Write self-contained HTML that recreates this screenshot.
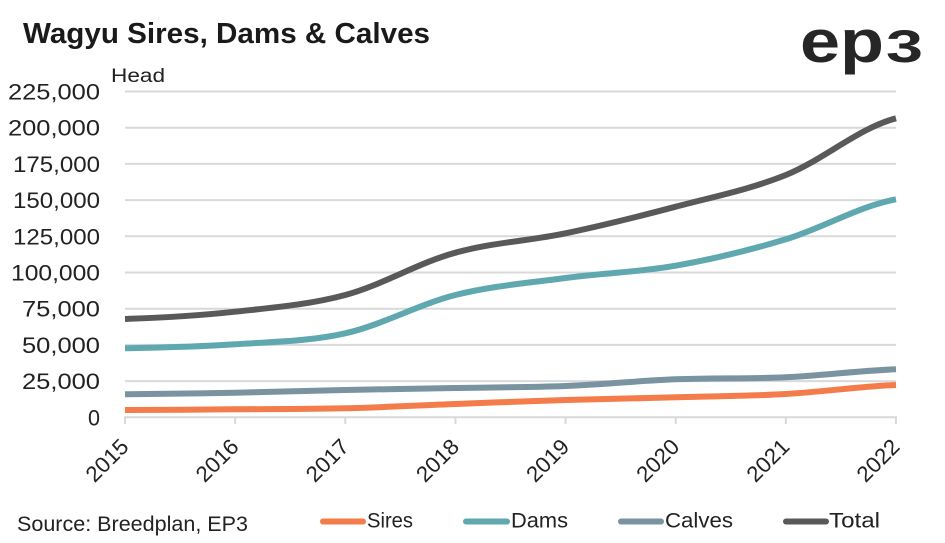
<!DOCTYPE html>
<html><head><meta charset="utf-8"><style>
html,body{margin:0;padding:0;background:#fff;}
svg{display:block;}
text{font-family:"Liberation Sans",sans-serif;}
</style></head><body>
<svg width="945" height="543" viewBox="0 0 945 543" xmlns="http://www.w3.org/2000/svg">
<rect width="945" height="543" fill="#fff"/>
<text x="23" y="43" font-size="29" font-weight="bold" fill="#1a1a1a" textLength="407" lengthAdjust="spacingAndGlyphs">Wagyu Sires, Dams &amp; Calves</text>
<g fill="#262626" font-weight="bold">
<text x="800" y="62" font-size="60" textLength="84" lengthAdjust="spacingAndGlyphs">ep</text>
<text x="886" y="62" font-size="45" textLength="37" lengthAdjust="spacingAndGlyphs">3</text>
</g>
<text x="111" y="82" font-size="19" fill="#222" textLength="54" lengthAdjust="spacingAndGlyphs">Head</text>
<g stroke="#d9d9d9" stroke-width="2">
<line x1="125" y1="91.5" x2="896" y2="91.5"/>
<line x1="125" y1="127.7" x2="896" y2="127.7"/>
<line x1="125" y1="163.9" x2="896" y2="163.9"/>
<line x1="125" y1="200.1" x2="896" y2="200.1"/>
<line x1="125" y1="236.3" x2="896" y2="236.3"/>
<line x1="125" y1="272.5" x2="896" y2="272.5"/>
<line x1="125" y1="308.7" x2="896" y2="308.7"/>
<line x1="125" y1="344.9" x2="896" y2="344.9"/>
<line x1="125" y1="381.1" x2="896" y2="381.1"/>
<line x1="124" y1="417.3" x2="897" y2="417.3"/>
<line x1="125" y1="417" x2="125" y2="424"/>
<line x1="235.14" y1="417" x2="235.14" y2="424"/>
<line x1="345.29" y1="417" x2="345.29" y2="424"/>
<line x1="455.43" y1="417" x2="455.43" y2="424"/>
<line x1="565.57" y1="417" x2="565.57" y2="424"/>
<line x1="675.71" y1="417" x2="675.71" y2="424"/>
<line x1="785.86" y1="417" x2="785.86" y2="424"/>
<line x1="896" y1="417" x2="896" y2="424"/>
</g>
<g font-size="22" fill="#222">
<text x="8" y="99.5" textLength="92" lengthAdjust="spacingAndGlyphs">225,000</text>
<text x="8" y="135.7" textLength="92" lengthAdjust="spacingAndGlyphs">200,000</text>
<text x="13" y="171.9" textLength="87" lengthAdjust="spacingAndGlyphs">175,000</text>
<text x="13" y="208.1" textLength="87" lengthAdjust="spacingAndGlyphs">150,000</text>
<text x="13" y="244.3" textLength="87" lengthAdjust="spacingAndGlyphs">125,000</text>
<text x="11" y="280.5" textLength="89" lengthAdjust="spacingAndGlyphs">100,000</text>
<text x="22" y="316.7" textLength="78" lengthAdjust="spacingAndGlyphs">75,000</text>
<text x="22" y="352.9" textLength="78" lengthAdjust="spacingAndGlyphs">50,000</text>
<text x="22" y="389.1" textLength="78" lengthAdjust="spacingAndGlyphs">25,000</text>
<text x="88" y="425.3" textLength="12" lengthAdjust="spacingAndGlyphs">0</text>
</g>
<g font-size="22" fill="#222" text-anchor="end">
<text x="130" y="448" transform="rotate(-45 130 448)" textLength="50" lengthAdjust="spacingAndGlyphs">2015</text>
<text x="240.14" y="448" transform="rotate(-45 240.14 448)" textLength="50" lengthAdjust="spacingAndGlyphs">2016</text>
<text x="350.29" y="448" transform="rotate(-45 350.29 448)" textLength="50" lengthAdjust="spacingAndGlyphs">2017</text>
<text x="460.43" y="448" transform="rotate(-45 460.43 448)" textLength="50" lengthAdjust="spacingAndGlyphs">2018</text>
<text x="570.57" y="448" transform="rotate(-45 570.57 448)" textLength="50" lengthAdjust="spacingAndGlyphs">2019</text>
<text x="680.71" y="448" transform="rotate(-45 680.71 448)" textLength="50" lengthAdjust="spacingAndGlyphs">2020</text>
<text x="790.86" y="448" transform="rotate(-45 790.86 448)" textLength="50" lengthAdjust="spacingAndGlyphs">2021</text>
<text x="901" y="448" transform="rotate(-45 901 448)" textLength="50" lengthAdjust="spacingAndGlyphs">2022</text>
</g>
<g fill="none" stroke-width="6" stroke-linejoin="round">
<path stroke="#595959" d="M125,319 C161.71,317.78 198.43,315.7 235.14,311.7 C271.85,307.7 308.57,304.83 345.29,295 C382,285.17 418.72,262.53 455.43,252.7 C492.14,242.42 528.86,241 565.57,233.3 C602.28,225.63 639,216.42 675.71,206.7 C712.42,196.98 749.14,189.73 785.86,175 C822.57,160.27 859.29,127.75 896,118.3"/>
<path stroke="#5fa8b0" d="M125,348.3 C161.71,347.63 198.43,346.8 235.14,344.3 C271.85,341.8 308.57,341.52 345.29,333.3 C382,325.08 418.72,304.22 455.43,295 C492.14,285.78 528.86,282.88 565.57,278 C602.28,273.12 639,272.15 675.71,265.7 C712.42,259.25 749.14,250.37 785.86,239.3 C822.57,228.23 859.29,205.97 896,199.3"/>
<path stroke="#7a93a0" d="M125,394.3 C161.71,394.03 198.43,393.42 235.14,392.7 C271.85,391.98 308.57,390.78 345.29,390 C382,389.22 418.72,388.67 455.43,388 C492.14,387.33 528.86,387.45 565.57,386 C602.28,384.55 639,380.75 675.71,379.3 C712.42,377.85 749.14,378.97 785.86,377.3 C822.57,375.63 859.29,370.63 896,369.3"/>
<path stroke="#f47c4b" d="M125,410 C161.71,409.88 198.43,409.58 235.14,409.3 C271.85,409.02 308.57,409.18 345.29,408.3 C382,407.42 418.72,405.38 455.43,404 C492.14,402.62 528.86,401.12 565.57,400 C602.28,398.88 639,398.3 675.71,397.3 C712.42,396.3 749.14,396.05 785.86,394 C822.57,391.95 859.29,386.5 896,385"/>
</g>
<text x="17" y="531" font-size="21" fill="#222" textLength="231" lengthAdjust="spacingAndGlyphs">Source: Breedplan, EP3</text>
<g stroke-width="6" stroke-linecap="round">
<line x1="323" y1="521.5" x2="363" y2="521.5" stroke="#f47c4b"/>
<line x1="466" y1="521.5" x2="507" y2="521.5" stroke="#5fa8b0"/>
<line x1="621" y1="521.5" x2="661" y2="521.5" stroke="#7a93a0"/>
<line x1="786" y1="521.5" x2="826" y2="521.5" stroke="#595959"/>
</g>
<g font-size="21" fill="#222">
<text x="367" y="527.5" textLength="46" lengthAdjust="spacingAndGlyphs">Sires</text>
<text x="511" y="527.5" textLength="57" lengthAdjust="spacingAndGlyphs">Dams</text>
<text x="665" y="527.5" textLength="68" lengthAdjust="spacingAndGlyphs">Calves</text>
<text x="829" y="527.5" textLength="51" lengthAdjust="spacingAndGlyphs">Total</text>
</g>
</svg>
</body></html>
